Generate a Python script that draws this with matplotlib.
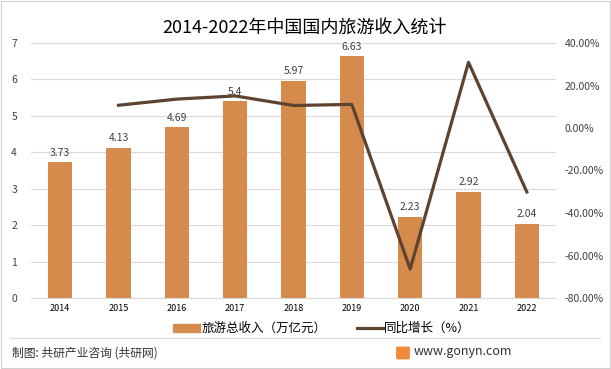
import matplotlib
matplotlib.use("Agg")
import matplotlib.pyplot as plt
from matplotlib.patches import Rectangle, FancyBboxPatch
from matplotlib.lines import Line2D

plt.rcParams['font.family'] = ['Noto Sans CJK SC', 'DejaVu Sans']

years = ['2014', '2015', '2016', '2017', '2018', '2019', '2020', '2021', '2022']
revenue = [3.73, 4.13, 4.69, 5.4, 5.97, 6.63, 2.23, 2.92, 2.04]
growth_years = ['2015', '2016', '2017', '2018', '2019', '2020', '2021', '2022']
growth = [10.7, 13.6, 15.1, 10.6, 11.1, -66.4, 30.9, -30.1]

bar_color = '#D58B4C'
line_color = '#5E4330'

fig = plt.figure(figsize=(6.11, 3.69), dpi=100)
ax = fig.add_axes([31/611, 1-298/369, (556-31)/611, (298-43)/369])
x = list(range(len(years)))
ax.bar(x, revenue, width=0.42, color=bar_color, zorder=2)
for xi, v in zip(x, revenue):
    ax.text(xi, v + 0.12, f'{v:g}', ha='center', va='bottom', fontsize=7.5, color='#404040')
ax.set_ylim(0, 7)
ax.set_xlim(-0.5, len(years)-0.5)
ax.set_yticks(range(0, 8))
ax.yaxis.grid(True, color='#D9D9D9', lw=0.8, zorder=0)
ax.set_xticks(x)
ax.set_xticklabels(years, fontsize=6.5, color='#000000')
ax.tick_params(axis='both', length=0, pad=4)
ax.tick_params(axis='y', labelsize=7.5, labelcolor='#404040', pad=10)
for s in ax.spines.values():
    s.set_visible(False)
ax.spines['bottom'].set_visible(True)
ax.spines['bottom'].set_color('#D9D9D9')

ax2 = ax.twinx()
gx = [years.index(y) for y in growth_years]
ax2.plot(gx, growth, color=line_color, lw=2.3, zorder=3)
ax2.set_ylim(-80, 40)
ax2.set_yticks(range(-80, 41, 20))
ax2.set_yticklabels([f'{v:.2f}%' for v in range(-80, 41, 20)])
ax2.tick_params(axis='y', length=0, labelsize=7.5, labelcolor='#404040', pad=6)
for s in ax2.spines.values():
    s.set_visible(False)

fig.text(305/611, 1-28/369, '2014-2022年中国国内旅游收入统计', ha='center', va='center', fontsize=13, color='#000000')

# legend
lg_y = 1-328/369
fig.patches.append(Rectangle((173/611, lg_y-4/369), 27/611, 8/369, transform=fig.transFigure, color=bar_color))
fig.text(202/611, lg_y, '旅游总收入（万亿元）', va='center', ha='left', fontsize=9, color='#000000')
fig.lines.append(Line2D([357/611, 383/611], [lg_y, lg_y], transform=fig.transFigure, color=line_color, lw=2.3))
fig.text(384/611, lg_y, '同比增长（%）', va='center', ha='left', fontsize=9, color='#000000')

# footer
fig.lines.append(Line2D([10/611, 600/611], [1-338/369, 1-338/369], transform=fig.transFigure, color='#D9D9D9', lw=0.8))
fig.text(12/611, 1-353/369, '制图: 共研产业咨询 (共研网)', va='center', ha='left', fontsize=8.5, color='#333333')
fig.patches.append(FancyBboxPatch((398/611, 1-358/369), 10/611, 10/369, boxstyle='round,pad=0.002',
                                   transform=fig.transFigure, color='#F08A3A'))
fig.text(414/611, 1-352/369, 'www.gonyn.com', va='center', ha='left', fontsize=9, color='#333333')

# border
fig.patches.append(Rectangle((1/611, 1/369), 609/611, 367/369, transform=fig.transFigure,
                             fill=False, edgecolor='#D0D0D0', lw=0.8))

fig.savefig('out.png', dpi=100)
